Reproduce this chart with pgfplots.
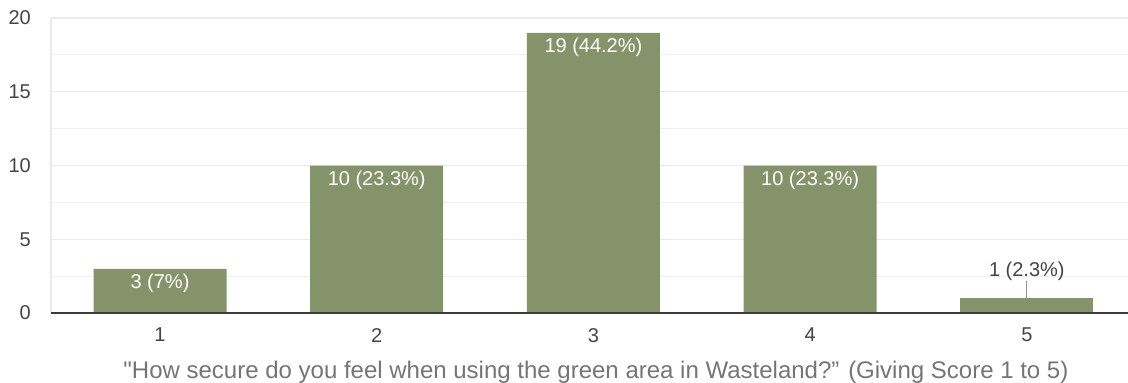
\documentclass[border=0pt]{standalone}
\usepackage{pgfplots}
\pgfplotsset{compat=1.18}
\usepackage{fontspec}
\setmainfont{Liberation Sans}
\newfontfamily\plainfont{Liberation Sans}
\definecolor{barc}{RGB}{133,147,107}
\definecolor{gridc}{RGB}{234,234,234}
\definecolor{tickc}{RGB}{68,68,68}
\definecolor{labc}{RGB}{117,117,117}
\definecolor{basec}{RGB}{60,60,60}
\begin{document}
\begin{tikzpicture}
\begin{axis}[
  scale only axis, width=1077pt, height=295pt,
  xmin=0.497, xmax=5.467, ymin=0, ymax=20,
  ytick={0,5,10,15,20}, minor ytick={2.5,7.5,12.5,17.5},
  ymajorgrids, yminorgrids,
  major grid style={draw=gridc, line width=1.2pt},
  minor grid style={draw=gridc!70!white, line width=1.2pt},
  xtick={1,2,3,4,5},
  axis line style={draw=none},
  tick style={draw=none},
  /pgf/number format/assume math mode=true,
  ticklabel style={font=\fontsize{20}{24}\selectfont, text=tickc, inner sep=0pt},
  yticklabel style={xshift=-20pt},
  xticklabel style={yshift=-15pt},
  xlabel={"How secure do you feel when using the green area in Wasteland?” (Giving Score 1 to 5)},
  xlabel style={font=\plainfont\fontsize{24}{28}\selectfont, text=labc, at={(axis description cs:0.506,0)}, anchor=base, yshift=-65pt, inner sep=0pt},
  point meta=explicit symbolic,
  clip=false,
]
\draw[gridc, line width=1.2pt] (rel axis cs:0,0) -- (rel axis cs:0,1);
\addplot[ybar, bar width=133pt, bar shift=0pt, fill=barc, draw=none,
  nodes near coords,
  every node near coord/.style={font=\fontsize{20}{24}\selectfont, text=white, anchor=center, yshift=-14.5pt}]
  coordinates {(1,3) [3 (7\%)] (2,10) [10 (23.3\%)] (3,19) [19 (44.2\%)] (4,10) [10 (23.3\%)]};
\addplot[ybar, bar width=133pt, bar shift=0pt, fill=barc, draw=none,
  nodes near coords,
  every node near coord/.style={font=\fontsize{20}{24}\selectfont, text=tickc, anchor=center, yshift=27pt}]
  coordinates {(5,1) [1 (2.3\%)]};
\draw[labc!80, line width=1pt] (axis cs:5,1) -- ([yshift=17pt]axis cs:5,1);
\draw[basec, line width=1.5pt] (rel axis cs:0,0) -- (rel axis cs:1,0);
\end{axis}
\pgfresetboundingbox
\path (-51pt,-70pt) rectangle (1077pt,313pt);
\end{tikzpicture}
\end{document}
